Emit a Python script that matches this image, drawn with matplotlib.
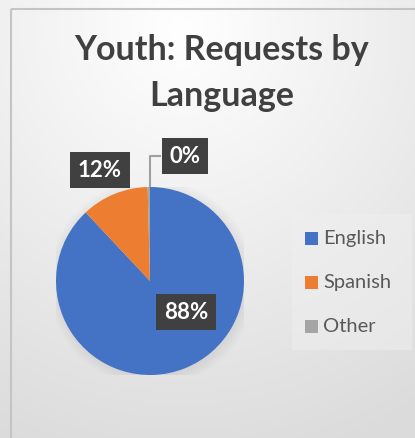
import numpy as np
import matplotlib.pyplot as plt
from matplotlib.patches import Rectangle

W, H = 415, 439
DPI = 100

languages = ["English", "Spanish", "Other"]
shares = [88.0, 11.6, 0.4]
colors = ["#4472c4", "#ed7d31", "#a5a5a5"]
title = "Youth: Requests by\nLanguage"

# pixel helpers (origin at the top-left corner)
def fx(px):
    return px / W

def fy(py):
    return 1 - py / H

fig = plt.figure(figsize=(W / DPI, H / DPI), dpi=DPI)

# chart area background: soft gradient, light at the top, grey at the bottom
bg = fig.add_axes([0, 0, 1, 1])
yy, xx = np.mgrid[0:H, 0:W]
d = np.sqrt(((xx - 180) / 420.0) ** 2 + ((yy - 30) / 430.0) ** 2)
shade = np.clip(1.0 - 0.135 * d, 0.86, 1.0)
bg.imshow(np.dstack([shade] * 3), extent=[0, W, H, 0], aspect="auto")
bg.add_patch(Rectangle((10.5, 9.5), W + 5, H + 5, fill=False, ec="#c4c4c4", lw=1.5))
bg.set_xlim(0, W)
bg.set_ylim(H, 0)
bg.axis("off")

fig.text(fx(222), fy(73), title, ha="center", va="center", fontsize=24.5,
         fontweight="bold", color="#404040", family="Lato", linespacing=1.55)

# pie: centre (150, 282), radius 94 px
cx, cy, r = 150, 282, 94
ax = fig.add_axes([fx(cx - r), fy(cy + r), 2 * r / W, 2 * r / H])
# faint shadow under the pie
for k in range(8):
    ax.add_patch(plt.Circle((0.02, -0.02), 1.0 + 0.015 * k, color="k",
                            alpha=0.008, lw=0, zorder=0))
ax.pie(shares, colors=colors, startangle=90, counterclock=False, radius=1.0,
       wedgeprops=dict(linewidth=0))
ax.set_xlim(-1, 1)
ax.set_ylim(-1, 1)
ax.axis("off")

# data labels as dark callout boxes
label_pos = [(186, 313), (100, 171), (185, 157)]
for (px, py), s in zip(label_pos, shares):
    fig.text(fx(px), fy(py), f"{round(s)}%", ha="center", va="center",
             fontsize=16, fontweight="bold", color="white", family="Lato",
             bbox=dict(boxstyle="square,pad=0.34", fc="#404040", ec="none"))

# leader line for the thin "Other" slice
bg.plot([150, 150, 160], [188, 157, 157], color="#a0a0a0", lw=1.5)

# legend
bg.add_patch(Rectangle((292, 215), 120, 136, fc="#efefef", ec="none", alpha=0.5))
for i, (name, col) in enumerate(zip(languages, colors)):
    y = 239 + 44 * i
    bg.add_patch(Rectangle((305, y - 6), 13, 13, fc=col, ec="none"))
    bg.text(323, y, name, ha="left", va="center", fontsize=14.5,
            color="#595959", family="Lato")

fig.savefig("out.png", dpi=DPI)
